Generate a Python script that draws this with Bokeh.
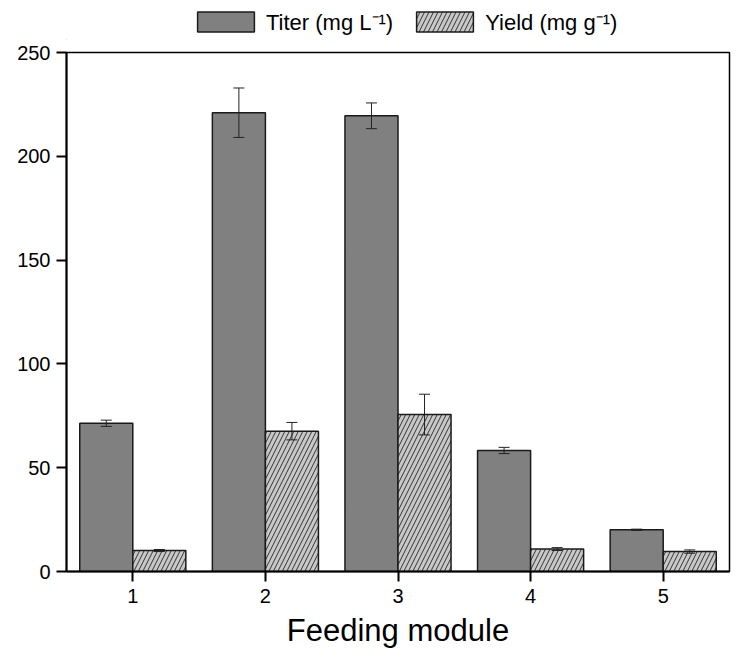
import numpy as np
from bokeh.plotting import figure
from bokeh.layouts import column
from bokeh.models import (ColumnDataSource, Whisker, TeeHead, Legend, LegendItem,
                          FixedTicker, Range1d)
from bokeh.transform import dodge
from bokeh.embed import file_html
from bokeh.resources import INLINE

# ---- data ----
modules = [1, 2, 3, 4, 5]
titer = [71.4, 221.0, 219.5, 58.3, 20.1]
titer_err = [1.5, 11.9, 6.2, 1.5, 0.3]
yields = [10.1, 67.6, 75.6, 10.8, 9.6]
yield_err = [0.5, 4.2, 9.8, 0.7, 0.8]
y_ticks = [0, 50, 100, 150, 200, 250]
labels = ["Titer (mg L⁻¹)", "Yield (mg g⁻¹)"]

FONT = "Liberation Sans"
TITER_STYLE = dict(fill_color="#808080", line_color="#1a1a1a", line_width=1.5)
YIELD_STYLE = dict(fill_color="#c8c8c8", line_color="#1a1a1a", line_width=1.5,
                   hatch_pattern="/", hatch_color="#333333", hatch_scale=9,
                   hatch_weight=1)

src = ColumnDataSource(dict(
    x=modules,
    titer=titer,
    t_lo=[v - e for v, e in zip(titer, titer_err)],
    t_hi=[v + e for v, e in zip(titer, titer_err)],
    yld=yields,
    y_lo=[v - e for v, e in zip(yields, yield_err)],
    y_hi=[v + e for v, e in zip(yields, yield_err)],
))

# ---- legend strip (separate figure above the plot; frames are aligned) ----
lg = figure(width=737, height=40, output_backend="svg", toolbar_location=None,
            x_range=Range1d(0, 1), y_range=Range1d(0, 1),
            x_axis_type=None, y_axis_type=None, min_border=0)
lg.outline_line_color = None
lg.xgrid.visible = False
lg.ygrid.visible = False
# off-range placeholders so the legend has a glyph to draw
d1 = lg.vbar(x=[-10], top=[0], width=0.1, **TITER_STYLE)
d2 = lg.vbar(x=[-10], top=[0], width=0.1, **YIELD_STYLE)
legend = Legend(items=[LegendItem(label=labels[0], renderers=[d1]),
                       LegendItem(label=labels[1], renderers=[d2])],
                orientation="horizontal", location=(124, 4),
                border_line_color=None, background_fill_alpha=0,
                glyph_width=71, glyph_height=25, label_height=25,
                label_text_font_size="22px", label_text_font=FONT,
                label_text_color="black",
                label_standoff=5, spacing=16, padding=0, margin=0)
lg.add_layout(legend)

# ---- main plot ----
p = figure(width=737, height=624, output_backend="svg", toolbar_location=None,
           x_range=Range1d(0.5, 5.5), y_range=Range1d(0, 250),
           min_border_left=66, min_border_right=8, min_border_top=12,
           min_border_bottom=93)

p.vbar(x=dodge("x", -0.2), top="titer", bottom=0, width=0.4, source=src, **TITER_STYLE)
p.vbar(x=dodge("x", 0.2), top="yld", bottom=0, width=0.4, source=src, **YIELD_STYLE)

for base, lo, hi in [(dodge("x", -0.2), "t_lo", "t_hi"), (dodge("x", 0.2), "y_lo", "y_hi")]:
    w = Whisker(source=src, base=base, lower=lo, upper=hi, line_color="#222222",
                line_width=1, level="annotation",
                upper_head=TeeHead(size=11, line_color="#222222", line_width=1),
                lower_head=TeeHead(size=11, line_color="#222222", line_width=1))
    p.add_layout(w)

p.xgrid.visible = False
p.ygrid.visible = False
p.outline_line_color = "black"
p.outline_line_width = 1.5

p.xaxis.ticker = FixedTicker(ticks=modules)
p.yaxis.ticker = FixedTicker(ticks=y_ticks)
for ax in (p.xaxis, p.yaxis):
    ax.axis_line_color = "black"
    ax.axis_line_width = 2
    ax.major_tick_line_color = "black"
    ax.major_tick_line_width = 2
    ax.major_tick_out = 10
    ax.major_tick_in = 0
    ax.minor_tick_line_color = None
    ax.major_label_text_font = FONT
    ax.major_label_text_font_size = "20px"
    ax.major_label_text_color = "black"
p.xaxis.axis_label = "Feeding module"
p.xaxis.axis_label_text_font = FONT
p.xaxis.axis_label_text_font_size = "31px"
p.xaxis.axis_label_text_font_style = "normal"
p.xaxis.axis_label_text_color = "black"
p.xaxis.axis_label_standoff = 7
p.xaxis.major_label_standoff = 7
p.yaxis.major_label_standoff = 6

layout = column(lg, p, spacing=0)
open("out.html", "w").write(file_html(layout, INLINE))
